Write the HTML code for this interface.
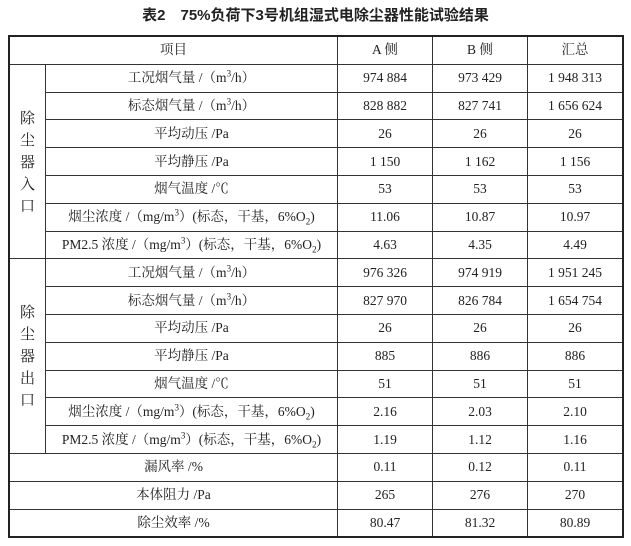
<!DOCTYPE html>
<html><head><meta charset="utf-8"><style>
body{margin:0;background:#fff;width:631px;height:546px;overflow:hidden;font-family:"Liberation Serif","Noto Serif CJK SC",serif;color:#222}
.t{position:absolute;left:0;top:4px;width:631px;text-align:center;font-family:"Liberation Sans","Noto Sans CJK SC",sans-serif;font-weight:bold;font-size:15px}
table{position:absolute;left:8px;top:35px;border-collapse:collapse;border:2px solid #222;font-size:13.5px}
td{border:1px solid #333;height:26.8px;padding:0;text-align:center;line-height:14px}
.g{width:35px;font-size:15px;line-height:22px;font-family:"Noto Serif CJK SC",serif}
sub,sup{font-size:9px;line-height:0}
</style></head><body>
<div class="t">表2　75%负荷下3号机组湿式电除尘器性能试验结果</div>
<table>
<tr><td colspan="2" style="width:327px">项目</td><td style="width:94px">A 侧</td><td style="width:94px">B 侧</td><td style="width:94px">汇总</td></tr>
<tr><td rowspan="7" class="g">除<br>尘<br>器<br>入<br>口</td><td>工况烟气量 /（m<sup>3</sup>/h）</td><td>974 884</td><td>973 429</td><td>1 948 313</td></tr>
<tr><td>标态烟气量 /（m<sup>3</sup>/h）</td><td>828 882</td><td>827 741</td><td>1 656 624</td></tr>
<tr><td>平均动压 /Pa</td><td>26</td><td>26</td><td>26</td></tr>
<tr><td>平均静压 /Pa</td><td>1 150</td><td>1 162</td><td>1 156</td></tr>
<tr><td>烟气温度 /℃</td><td>53</td><td>53</td><td>53</td></tr>
<tr><td>烟尘浓度 /（mg/m<sup>3</sup>）(标态，干基，6%O<sub>2</sub>)</td><td>11.06</td><td>10.87</td><td>10.97</td></tr>
<tr><td>PM2.5 浓度 /（mg/m<sup>3</sup>）(标态，干基，6%O<sub>2</sub>)</td><td>4.63</td><td>4.35</td><td>4.49</td></tr>
<tr><td rowspan="7" class="g">除<br>尘<br>器<br>出<br>口</td><td>工况烟气量 /（m<sup>3</sup>/h）</td><td>976 326</td><td>974 919</td><td>1 951 245</td></tr>
<tr><td>标态烟气量 /（m<sup>3</sup>/h）</td><td>827 970</td><td>826 784</td><td>1 654 754</td></tr>
<tr><td>平均动压 /Pa</td><td>26</td><td>26</td><td>26</td></tr>
<tr><td>平均静压 /Pa</td><td>885</td><td>886</td><td>886</td></tr>
<tr><td>烟气温度 /℃</td><td>51</td><td>51</td><td>51</td></tr>
<tr><td>烟尘浓度 /（mg/m<sup>3</sup>）(标态，干基，6%O<sub>2</sub>)</td><td>2.16</td><td>2.03</td><td>2.10</td></tr>
<tr><td>PM2.5 浓度 /（mg/m<sup>3</sup>）(标态，干基，6%O<sub>2</sub>)</td><td>1.19</td><td>1.12</td><td>1.16</td></tr>
<tr><td colspan="2">漏风率 /%</td><td>0.11</td><td>0.12</td><td>0.11</td></tr>
<tr><td colspan="2">本体阻力 /Pa</td><td>265</td><td>276</td><td>270</td></tr>
<tr><td colspan="2">除尘效率 /%</td><td>80.47</td><td>81.32</td><td>80.89</td></tr>
</table>
</body></html>
